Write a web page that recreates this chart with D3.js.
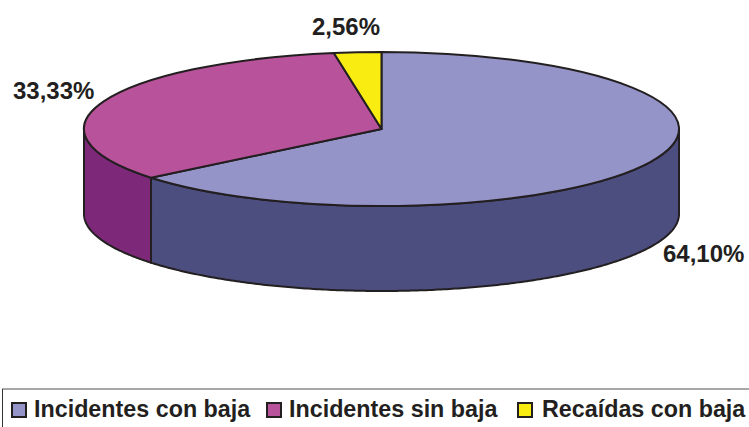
<!DOCTYPE html>
<html>
<head>
<meta charset="utf-8">
<script src="https://cdn.jsdelivr.net/npm/d3@7"></script>
<style>
    html, body { margin: 0; padding: 0; background: #fff; }
    svg { display: block; }
    text { font-family: "Liberation Sans", Arial, sans-serif; font-weight: bold; fill: #231f20; }
</style>
</head>
<body>
<div id="chart"></div>
<script>
const categories = ['Incidentes con baja', 'Incidentes sin baja', 'Recaídas con baja'];
const values = [64.10, 33.33, 2.56];
const valueLabels = ['64,10%', '33,33%', '2,56%'];
const topColors = ['#9594c8', '#b8529b', '#f8ec10'];
const sideColors = ['#4d4e80', '#7d2879', null];

const w = 749, h = 427;
const cx = 381.5, cy = 129, rx = 297.5, ry = 77, depth = 85;
const stroke = '#231f20';

const svg = d3.select('#chart').append('svg')
    .attr('width', w)
    .attr('height', h);

const slices = d3.pie().sort(null)(values);

// point on the top ellipse, angle measured clockwise from 12 o'clock
const rim = (a, dy) => [cx + rx * Math.sin(a), cy - ry * Math.cos(a) + dy];
const line = d3.line();

// walls first, only the front half of the ellipse is visible
slices.forEach((d, i) => {
    const a0 = Math.max(d.startAngle, Math.PI / 2),
          a1 = Math.min(d.endAngle, Math.PI * 1.5);
    if (a1 <= a0 || !sideColors[i]) return;
    const steps = d3.range(a0, a1, 0.01).concat([a1]);
    const pts = steps.map(a => rim(a, 0))
        .concat(steps.slice().reverse().map(a => rim(a, depth)));
    svg.append('path')
        .attr('d', line(pts) + 'Z')
        .attr('fill', sideColors[i])
        .attr('stroke', stroke)
        .attr('stroke-width', 2)
        .attr('stroke-linejoin', 'round');
});

// top face is a normal d3 arc squashed to an ellipse
const arc = d3.arc().innerRadius(0).outerRadius(rx);
svg.append('g')
    .attr('transform', `translate(${cx},${cy}) scale(1,${ry / rx})`)
    .selectAll('path')
    .data(slices)
    .enter()
    .append('path')
    .attr('d', arc)
    .attr('fill', (d, i) => topColors[i])
    .attr('stroke', stroke)
    .attr('stroke-width', 2)
    .attr('stroke-linejoin', 'round')
    .attr('vector-effect', 'non-scaling-stroke');

// value labels
const labelPos = [[663, 262], [13, 99], [312, 35]];
svg.selectAll('text.value')
    .data(valueLabels)
    .enter()
    .append('text')
    .attr('class', 'value')
    .attr('x', (d, i) => labelPos[i][0])
    .attr('y', (d, i) => labelPos[i][1])
    .attr('font-size', 24)
    .text(d => d);

// legend box runs off the right and bottom of the picture
svg.append('line')
    .attr('x1', 2).attr('y1', 389).attr('x2', w).attr('y2', 389)
    .attr('stroke', '#8a8a8a')
    .attr('stroke-width', 1.5);
svg.append('line')
    .attr('x1', 2.5).attr('y1', 389).attr('x2', 2.5).attr('y2', h)
    .attr('stroke', '#333')
    .attr('stroke-width', 1);

const legendX = [12, 267, 518];
const legend = svg.selectAll('g.legend')
    .data(categories)
    .enter()
    .append('g')
    .attr('class', 'legend')
    .attr('transform', (d, i) => `translate(${legendX[i]},403)`);

legend.append('rect')
    .attr('width', 14)
    .attr('height', 14)
    .attr('fill', (d, i) => topColors[i])
    .attr('stroke', stroke)
    .attr('stroke-width', 2);

legend.append('text')
    .attr('x', (d, i) => i == 2 ? 24 : 22)
    .attr('y', 14)
    .attr('font-size', 23.3)
    .text(d => d);
</script>
</body>
</html>
